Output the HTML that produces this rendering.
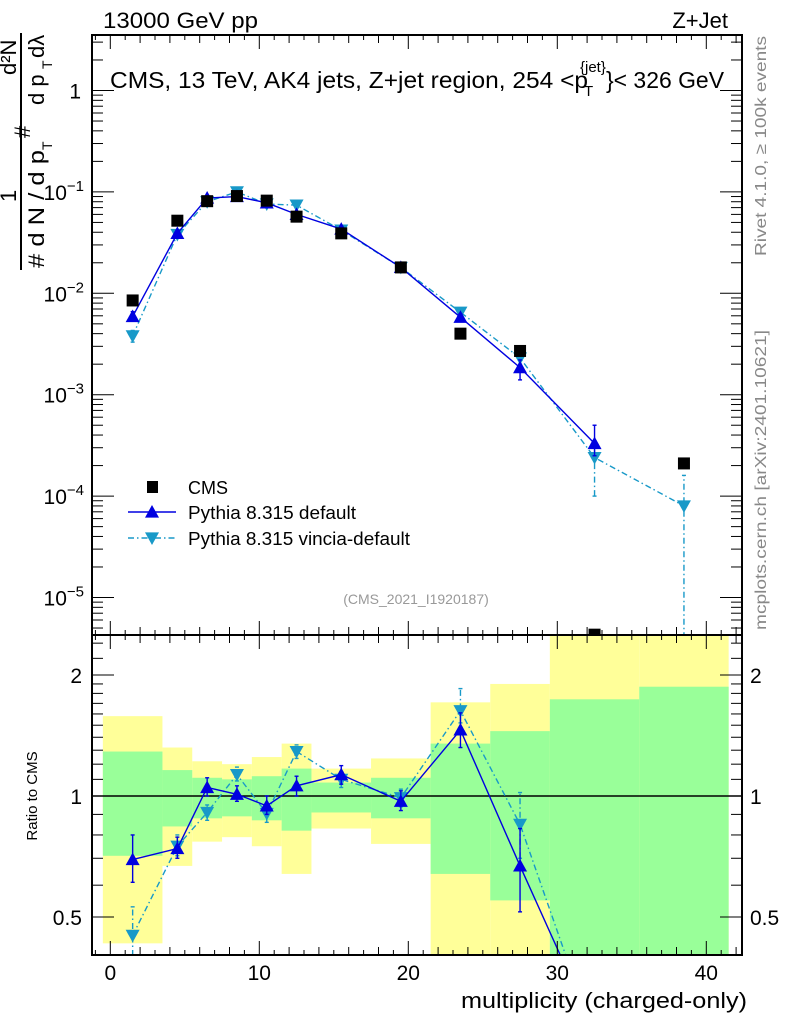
<!DOCTYPE html>
<html><head><meta charset="utf-8"><style>
body{margin:0;background:#fff}
svg{display:block;font-family:"Liberation Sans",sans-serif}
</style></head><body>
<svg id="c" width="786" height="1024" xmlns="http://www.w3.org/2000/svg"></svg>
<script>
const xs=[1.5,4.5,6.5,8.5,10.5,12.5,15.5,19.5,23.5,27.5,32.5,38.5];
const cms=[8.5e-3,0.052,0.081,0.091,0.082,0.057,0.039,0.018,4.0e-3,2.7e-3,4.3e-6,2.1e-4];
const pyDef=[5.9e-3,0.039,0.087,0.09,0.078,0.06,0.043,0.018,5.8e-3,1.85e-3,3.3e-4,null];
const pyDefLo=[5.3e-3,0.037,0.084,0.087,0.075,0.058,0.042,0.0175,5.3e-3,1.4e-3,2.5e-4,null];
const pyDefHi=[6.6e-3,0.041,0.09,0.093,0.081,0.062,0.044,0.0185,6.3e-3,2.2e-3,5.0e-4,null];
const pyVin=[3.8e-3,0.038,0.08,0.1,0.076,0.074,0.042,0.018,6.5e-3,2.3e-3,2.4e-4,8e-5];
const pyVinLo=[3.3e-3,0.036,0.077,0.097,0.073,0.071,0.041,0.0175,6.0e-3,2.0e-3,1.0e-4,1e-7];
const pyVinHi=[4.3e-3,0.04,0.083,0.103,0.079,0.077,0.043,0.0185,7.0e-3,2.6e-3,3.2e-4,1.6e-4];
const binEdges=[-0.5,3.5,5.5,7.5,9.5,11.5,13.5,17.5,21.5,25.5,29.5,35.5,41.5];
const greenLo=[0.71,0.84,0.88,0.89,0.87,0.82,0.91,0.88,0.64,0.55,0.3,0.3];
const greenHi=[1.29,1.16,1.11,1.10,1.12,1.17,1.08,1.11,1.35,1.45,1.74,1.87];
const yellowLo=[0.43,0.67,0.77,0.79,0.75,0.64,0.83,0.76,0.3,0.3,0.3,0.3];
const yellowHi=[1.58,1.32,1.22,1.20,1.25,1.35,1.17,1.24,1.71,1.90,3,3];
const rDef=[0.695,0.74,1.05,1.01,0.945,1.06,1.13,0.97,1.46,0.67,0.26];
const rDefLo=[0.61,0.70,1.0,0.97,0.90,1.0,1.07,0.92,1.32,0.515,0.26];
const rDefHi=[0.80,0.79,1.11,1.06,1.0,1.12,1.19,1.03,1.61,0.83,0.26];
const rVin=[0.45,0.75,0.91,1.13,0.905,1.29,1.10,0.99,1.63,0.85,0.25];
const rVinLo=[0.40,0.71,0.87,1.09,0.86,1.24,1.05,0.94,1.52,0.70,0.25];
const rVinHi=[0.53,0.80,0.95,1.18,0.95,1.34,1.15,1.04,1.85,1.02,0.25];
const xTicks=[0,10,20,30,40];
const mainTicks=[0,-1,-2,-3,-4,-5];
const ratioTicks=[0.5,1,2];

const NS="http://www.w3.org/2000/svg", svg=document.getElementById('c');
const L=92,R=742,T=35,M=635,B=955;
const X=v=>110.3+14.9*v;
const Y=v=>90.5-101.4*Math.log10(v);
const YR=v=>796-402*Math.log10(v);
function el(t,a,p){const e=document.createElementNS(NS,t);for(const k in a)e.setAttribute(k,a[k]);(p||svg).appendChild(e);return e;}
const defs=el('defs',{});
const c1=el('clipPath',{id:'cm'},defs);el('rect',{x:L,y:T,width:R-L,height:M-T},c1);
const c2=el('clipPath',{id:'cr'},defs);el('rect',{x:L,y:M,width:R-L,height:B-M},c2);
const gM=el('g',{'clip-path':'url(#cm)'});


const gR=el('g',{'clip-path':'url(#cr)'});



for(let i=0;i<12;i++){
  const x0=X(binEdges[i]),x1=X(binEdges[i+1]);
  const y=el('rect',{x:x0,y:YR(yellowHi[i]),width:x1-x0,height:YR(yellowLo[i])-YR(yellowHi[i]),fill:'#ffff99'},gR);
  
  
}
for(let i=0;i<12;i++){
  const x0=X(binEdges[i]),x1=X(binEdges[i+1]);
  const g=el('rect',{x:x0,y:YR(greenHi[i]),width:x1-x0,height:YR(greenLo[i])-YR(greenHi[i]),fill:'#99ff99'},gR);
  
  
}
el('line',{x1:L,x2:R,y1:YR(1),y2:YR(1),stroke:'#000','stroke-width':1.5},gR);

function tri(g,x,y,up,col){
  const s=7;
  const p=up?`${x},${y-s} ${x-s},${y+s*0.8} ${x+s},${y+s*0.8}`:`${x},${y+s} ${x-s},${y-s*0.8} ${x+s},${y-s*0.8}`;
  return el('polygon',{points:p,fill:col},g);
}
function series(g,vals,lo,hi,Yf,col,dash,up,name){
  const pts=[];vals.forEach((v,i)=>{if(v!=null)pts.push(X(xs[i])+','+Yf(v));});
  const pl=el('polyline',{points:pts.join(' '),fill:'none',stroke:col,'stroke-width':1.4,'stroke-dasharray':dash},g);
  
  
  vals.forEach((v,i)=>{if(v==null)return;const x=X(xs[i]);
    el('line',{x1:x,x2:x,y1:Yf(lo[i]),y2:Yf(hi[i]),stroke:col,'stroke-width':1.4,'stroke-dasharray':dash},g);
    el('line',{x1:x-2,x2:x+2,y1:Yf(lo[i]),y2:Yf(lo[i]),stroke:col,'stroke-width':1.4},g);
    el('line',{x1:x-2,x2:x+2,y1:Yf(hi[i]),y2:Yf(hi[i]),stroke:col,'stroke-width':1.4},g);
    const m=tri(g,x,Yf(v),up,col);
    
    
  });
}
series(gM,pyVin,pyVinLo,pyVinHi,Y,'#1899c8','6,3,1.5,3',false,'vincia');
series(gM,pyDef,pyDefLo,pyDefHi,Y,'#0000e0','',true,'default');
cms.forEach((v,i)=>{const r=el('rect',{x:X(xs[i])-6,y:Y(v)-6,width:12,height:12,fill:'#000'},gM);
  
  });
series(gR,rVin,rVinLo,rVinHi,YR,'#1899c8','6,3,1.5,3',false,'vincia-ratio');
series(gR,rDef,rDefLo,rDefHi,YR,'#0000e0','',true,'default-ratio');

el('rect',{x:L,y:T,width:R-L,height:M-T,fill:'none',stroke:'#000','stroke-width':2});
el('rect',{x:L,y:M,width:R-L,height:B-M,fill:'none',stroke:'#000','stroke-width':2});
for(let v=-1;v<=42;v++){const x=X(v);const len=v%10==0?14:(v%2==0?8:5);
  [[T,1],[M,-1],[M,1],[B,-1]].forEach(([y,d])=>el('line',{x1:x,x2:x,y1:y,y2:y+d*len,stroke:'#000','stroke-width':1}));}
xTicks.forEach(v=>{const t=el('text',{x:X(v),y:980,'font-size':21,'text-anchor':'middle'});t.textContent=v;
  });
for(let d=1;d>=-6;d--){for(let k=1;k<10;k++){const y=Y(k*Math.pow(10,d));if(y<T||y>M)continue;const len=k==1?22:11;
  el('line',{x1:L,x2:L+len,y1:y,y2:y,stroke:'#000'});el('line',{x1:R,x2:R-len,y1:y,y2:y,stroke:'#000'});}}
mainTicks.forEach(d=>{const t=el('text',{x:d==0?81:84,y:Y(Math.pow(10,d))+8,'font-size':21,'text-anchor':'end'});
  if(d==0)t.textContent='1';else{t.textContent='10';const s=el('tspan',{dy:-9,'font-size':15},t);s.textContent='\u2212'+(-d);}
  });
[0.4,0.5,0.6,0.7,0.8,0.9,1,2,3].forEach(v=>{const y=YR(v);if(y<M||y>B)return;const len=(v==1||v==2||v==0.5)?22:11;
  el('line',{x1:L,x2:L+len,y1:y,y2:y,stroke:'#000'});el('line',{x1:R,x2:R-len,y1:y,y2:y,stroke:'#000'});});
[1.1,1.2,1.3,1.4,1.5,1.6,1.7,1.8,1.9,2.2,2.4].forEach(v=>{const y=YR(v);if(y<M)return;
  el('line',{x1:L,x2:L+11,y1:y,y2:y,stroke:'#000'});el('line',{x1:R,x2:R-11,y1:y,y2:y,stroke:'#000'});});
ratioTicks.forEach(v=>{[[82,'end'],[750,'start']].forEach(([x,a])=>{const t=el('text',{x:x,y:YR(v)+8,'font-size':21,'text-anchor':a});t.textContent=v;
  });});

function txt(x,y,s,str,attrs,name,parent){const t=el('text',Object.assign({x:x,y:y,'font-size':s},attrs||{}),parent);t.textContent=str;
  return t;}
txt(103,28,22,'13000 GeV pp',{textLength:155,lengthAdjust:'spacingAndGlyphs'},'header-energy');
txt(728,28,22,'Z+Jet',{'text-anchor':'end'},'header-process');
txt(110,88,23,'CMS, 13 TeV, AK4 jets, Z+jet region, 254 <p',{textLength:478,lengthAdjust:'spacingAndGlyphs'},'plot-title');
txt(584,96,15,'T',{},'plot-title-sub');
txt(580,72,15,'{jet}',{},'plot-title-sup');
txt(606,88,23,'}< 326 GeV',{textLength:118,lengthAdjust:'spacingAndGlyphs'},'plot-title-end');
txt(747,1008,22,'multiplicity (charged-only)',{'text-anchor':'end',textLength:286,lengthAdjust:'spacingAndGlyphs'},'x-axis-title');
txt(0,0,15,'Ratio to CMS',{'text-anchor':'middle',transform:'translate(37,796) rotate(-90)'},'ratio-y-axis-title');
txt(0,0,16,'Rivet 4.1.0, \u2265 100k events',{'text-anchor':'middle',fill:'#888',transform:'translate(766,146) rotate(-90)',textLength:220,lengthAdjust:'spacingAndGlyphs'},'rivet-version');
txt(0,0,16,'mcplots.cern.ch [arXiv:2401.10621]',{'text-anchor':'middle',fill:'#888',transform:'translate(766,480) rotate(-90)',textLength:300,lengthAdjust:'spacingAndGlyphs'},'mcplots-credit');
txt(416,604,14,'(CMS_2021_I1920187)',{'text-anchor':'middle',fill:'#999'},'analysis-id');
const ya=el('g',{transform:'translate(0,270) rotate(-90)'});

el('line',{x1:0,x2:237,y1:21,y2:21,stroke:'#000','stroke-width':2},ya);
txt(68,16,22,'1',{},'y-title-one',ya);
txt(2,44,22,'# d N / d p',{textLength:118,lengthAdjust:'spacingAndGlyphs'},'y-title-denominator',ya);
txt(120,52,14,'T',{},'y-title-sub1',ya);
txt(132,30,22,'#',{},'y-title-hash',ya);
txt(165,44,22,'d p',{},'y-title-dp',ya);
txt(201,52,14,'T',{},'y-title-sub2',ya);
txt(212,44,22,'d\u03bb',{},'y-title-dlambda',ya);
txt(195,16,22,'d\u00b2N',{},'y-title-numerator',ya);
const lg=el('g',{});
el('rect',{x:147,y:481,width:11,height:12,fill:'#000'},lg);
txt(188,494,18,'CMS',{},'legend-cms');
el('line',{x1:128,x2:176,y1:512,y2:512,stroke:'#0000e0','stroke-width':1.4},lg);tri(lg,152,512,true,'#0000e0');
txt(188,519,18,'Pythia 8.315 default',{textLength:168,lengthAdjust:'spacingAndGlyphs'},'legend-default');
el('line',{x1:128,x2:176,y1:538,y2:538,stroke:'#1899c8','stroke-width':1.4,'stroke-dasharray':'6,3,1.5,3'},lg);tri(lg,152,538,false,'#1899c8');
txt(188,545,18,'Pythia 8.315 vincia-default',{textLength:222,lengthAdjust:'spacingAndGlyphs'},'legend-vincia');
</script>
</body></html>
